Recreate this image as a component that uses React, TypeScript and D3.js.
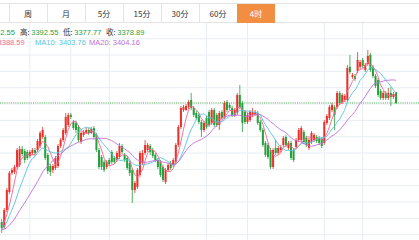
import React from 'react';
import * as d3 from 'd3';

const W = 419;
const H = 240;

const tabs = ['周', '月', '5分', '15分', '30分', '60分', '4时'];
const activeTab = '4时';

const infoLabels = ['开', '高', '低', '收'];
const infoValues = ['3392.55', '3392.55', '3377.77', '3378.89'];
const maLabels = ['MA5', 'MA10', 'MA20'];
const maValues = ['3388.59', '3403.76', '3404.16'];
const maPeriods = [5, 10, 20];

// closes before the first visible candle (needed for the moving averages)
const priorClose = [3238.9, 3232.6, 3226.4, 3220.1, 3222.6, 3213.9, 3210.1, 3217.6, 3212.6, 3207.6,
  3210.1, 3216.4, 3212.6, 3220.1, 3225.1, 3221.4, 3226.4, 3230.1, 3227.6];

const open = [
  3230.1, 3223.9, 3245.1, 3267.6, 3291.4, 3292.6, 3298.9, 3301.4, 3321.4, 3318.9,
  3317.6, 3312.6, 3316.4, 3320.1, 3320.1, 3325.1, 3336.4, 3336.4, 3313.9, 3300.1,
  3295.1, 3297.6, 3300.1, 3325.1, 3332.6, 3341.4, 3351.4, 3363.9, 3355.1, 3353.9,
  3348.9, 3330.1, 3338.9, 3341.4, 3345.1, 3341.4, 3347.6, 3338.9, 3320.1, 3311.4,
  3305.1, 3298.9, 3307.6, 3317.6, 3310.1, 3307.6, 3311.4, 3325.1, 3313.9, 3310.1,
  3303.9, 3295.1, 3270.1, 3273.9, 3288.9, 3303.9, 3316.4, 3320.1, 3325.1, 3320.1,
  3313.9, 3307.6, 3305.1, 3298.9, 3280.1, 3295.1, 3303.9, 3301.4, 3305.1, 3326.4,
  3348.9, 3370.1, 3370.1, 3373.9, 3382.6, 3372.6, 3366.4, 3363.9, 3355.1, 3345.1,
  3360.1, 3367.6, 3353.9, 3370.1, 3363.9, 3351.4, 3367.6, 3361.4, 3380.1, 3376.4,
  3372.6, 3363.9, 3366.4, 3388.9, 3378.9, 3367.6, 3355.1, 3357.6, 3363.9, 3365.1,
  3366.4, 3355.1, 3345.1, 3328.9, 3326.4, 3320.1, 3298.9, 3322.6, 3316.4, 3320.1,
  3326.4, 3336.4, 3322.6, 3328.9, 3320.1, 3323.9, 3332.6, 3332.6, 3342.6, 3335.1,
  3322.6, 3330.1, 3332.6, 3336.4, 3335.1, 3333.9, 3328.9, 3353.9, 3360.1, 3370.1,
  3373.9, 3373.9, 3391.4, 3380.1, 3382.6, 3382.6, 3423.9, 3411.4, 3412.6, 3418.9,
  3423.9, 3432.6, 3420.1, 3427.6, 3438.9, 3423.9, 3412.6, 3407.6, 3393.9, 3385.1,
  3391.4, 3385.1, 3391.4, 3386.4, 3392.55,
];

const close = [
  3222.6, 3245.1, 3270.1, 3291.4, 3295.1, 3298.9, 3320.1, 3321.4, 3315.1, 3307.6,
  3310.1, 3317.6, 3320.1, 3316.4, 3331.4, 3341.4, 3345.1, 3310.1, 3293.9, 3292.6,
  3300.1, 3310.1, 3325.1, 3332.6, 3345.1, 3361.4, 3363.9, 3361.4, 3347.6, 3345.1,
  3332.6, 3341.4, 3342.6, 3345.1, 3341.4, 3346.4, 3336.4, 3320.1, 3298.9, 3298.9,
  3295.1, 3305.1, 3302.6, 3305.1, 3305.1, 3316.4, 3325.1, 3317.6, 3307.6, 3297.6,
  3291.4, 3270.1, 3278.9, 3295.1, 3316.4, 3316.4, 3326.4, 3326.4, 3317.6, 3312.6,
  3307.6, 3298.9, 3288.9, 3282.6, 3295.1, 3301.4, 3297.6, 3307.6, 3326.4, 3348.9,
  3372.6, 3373.9, 3375.1, 3380.1, 3372.6, 3363.9, 3360.1, 3355.1, 3345.1, 3353.9,
  3348.9, 3351.4, 3370.1, 3351.4, 3351.4, 3366.4, 3360.1, 3378.9, 3370.1, 3372.6,
  3363.9, 3370.1, 3388.9, 3373.9, 3353.9, 3355.1, 3363.9, 3367.6, 3367.6, 3367.6,
  3353.9, 3345.1, 3326.4, 3313.9, 3311.4, 3298.9, 3320.1, 3316.4, 3322.6, 3323.9,
  3335.1, 3326.4, 3328.9, 3310.1, 3307.6, 3332.6, 3345.1, 3347.6, 3330.1, 3326.4,
  3332.6, 3341.4, 3338.9, 3331.4, 3328.9, 3325.1, 3355.1, 3362.6, 3373.9, 3376.4,
  3363.9, 3391.4, 3378.9, 3388.9, 3387.6, 3422.6, 3417.6, 3413.9, 3408.9, 3432.6,
  3430.1, 3425.1, 3426.4, 3437.6, 3420.1, 3412.6, 3400.1, 3388.9, 3385.1, 3391.4,
  3385.1, 3391.4, 3386.4, 3390.1, 3378.89,
];

const high = [
  3233.9, 3247.6, 3272.6, 3293.9, 3297.6, 3301.4, 3322.6, 3325.1, 3325.1, 3321.4,
  3320.1, 3320.1, 3322.6, 3322.6, 3333.9, 3343.9, 3348.9, 3338.9, 3316.4, 3302.6,
  3302.6, 3312.6, 3327.6, 3335.1, 3347.6, 3366.4, 3366.4, 3366.4, 3357.6, 3356.4,
  3351.4, 3343.9, 3345.1, 3347.6, 3347.6, 3348.9, 3350.1, 3341.4, 3322.6, 3313.9,
  3307.6, 3307.6, 3310.1, 3320.1, 3312.6, 3318.9, 3328.9, 3327.6, 3316.4, 3312.6,
  3306.4, 3297.6, 3281.4, 3297.6, 3318.9, 3320.1, 3332.6, 3328.9, 3327.6, 3322.6,
  3316.4, 3310.1, 3307.6, 3301.4, 3297.6, 3303.9, 3306.4, 3310.1, 3328.9, 3351.4,
  3375.1, 3376.4, 3377.6, 3382.6, 3391.4, 3375.1, 3368.9, 3366.4, 3357.6, 3356.4,
  3362.6, 3370.1, 3372.6, 3372.6, 3366.4, 3368.9, 3370.1, 3381.4, 3382.6, 3378.9,
  3375.1, 3372.6, 3391.4, 3401.4, 3381.4, 3370.1, 3366.4, 3370.1, 3372.6, 3370.1,
  3368.9, 3357.6, 3347.6, 3331.4, 3328.9, 3322.6, 3322.6, 3332.6, 3325.1, 3326.4,
  3337.6, 3338.9, 3331.4, 3331.4, 3322.6, 3335.1, 3347.6, 3350.1, 3345.1, 3337.6,
  3335.1, 3343.9, 3341.4, 3338.9, 3337.6, 3336.4, 3357.6, 3365.1, 3376.4, 3378.9,
  3376.4, 3393.9, 3393.9, 3391.4, 3390.1, 3426.4, 3438.9, 3416.4, 3415.1, 3442.6,
  3432.6, 3435.1, 3428.9, 3445.1, 3441.4, 3426.4, 3415.1, 3410.1, 3396.4, 3393.9,
  3393.9, 3397.6, 3398.9, 3392.6, 3392.55,
];

const low = [
  3216.4, 3221.4, 3242.6, 3265.1, 3288.9, 3290.1, 3296.4, 3298.9, 3312.6, 3303.9,
  3307.6, 3310.1, 3313.9, 3312.6, 3317.6, 3322.6, 3333.9, 3307.6, 3290.1, 3287.6,
  3291.4, 3295.1, 3297.6, 3322.6, 3330.1, 3338.9, 3348.9, 3358.9, 3345.1, 3341.4,
  3330.1, 3327.6, 3336.4, 3340.1, 3338.9, 3340.1, 3333.9, 3317.6, 3296.4, 3295.1,
  3292.6, 3296.4, 3300.1, 3302.6, 3302.6, 3305.1, 3308.9, 3315.1, 3305.1, 3295.1,
  3287.6, 3253.9, 3266.4, 3271.4, 3286.4, 3301.4, 3313.9, 3317.6, 3313.9, 3310.1,
  3305.1, 3296.4, 3286.4, 3280.1, 3277.6, 3292.6, 3295.1, 3298.9, 3302.6, 3323.9,
  3346.4, 3367.6, 3368.9, 3371.4, 3370.1, 3361.4, 3357.6, 3352.6, 3336.4, 3342.6,
  3346.4, 3348.9, 3351.4, 3348.9, 3348.9, 3345.1, 3357.6, 3358.9, 3367.6, 3370.1,
  3361.4, 3361.4, 3363.9, 3371.4, 3342.6, 3352.6, 3352.6, 3355.1, 3361.4, 3362.6,
  3351.4, 3342.6, 3323.9, 3311.4, 3308.9, 3296.4, 3296.4, 3313.9, 3313.9, 3317.6,
  3323.9, 3323.9, 3320.1, 3307.6, 3305.1, 3321.4, 3330.1, 3330.1, 3327.6, 3323.9,
  3320.1, 3327.6, 3330.1, 3328.9, 3326.4, 3322.6, 3326.4, 3351.4, 3357.6, 3367.6,
  3345.1, 3371.4, 3376.4, 3377.6, 3380.1, 3380.1, 3415.1, 3408.9, 3406.4, 3416.4,
  3421.4, 3422.6, 3417.6, 3425.1, 3417.6, 3410.1, 3397.6, 3386.4, 3382.6, 3382.6,
  3382.6, 3382.6, 3375.1, 3383.9, 3377.77,
];

// candle indices where the vertical (date) grid lines fall
const gridCandles = [11, 27, 42, 80, 96, 126, 141];

const RED = '#ea3029';
const GREEN = '#26a03b';
const MA_COLORS = ['#ef6790', '#55c4dd', '#bf6fd9'];
const GRID = '#e8eef2';
const LABEL = '#333333';
const VALUE_GREEN = '#2e9e3e';
const ORANGE = '#f28e41';

export default function App() {
  const n = close.length;
  const x = d3.scaleLinear().domain([0, n - 1]).range([1.7, 396]);
  const y = d3.scaleLinear().domain([3257.6, 3445.1]).range([200, 50]);
  const bw = 2;

  const allClose = [...priorClose, ...close];
  const mas = maPeriods.map((p) =>
    close.map((_, i) => {
      const j = i + priorClose.length;
      return d3.mean(allClose.slice(Math.max(0, j - p + 1), j + 1)) as number;
    })
  );
  const line = d3
    .line<number>()
    .x((_, i) => x(i))
    .y((d) => y(d));

  const gridY = d3.range(0, 14).map((k) => 22.4 + k * 16.33);
  const lastY = y(close[n - 1]);

  const tabX0 = 9;
  const tabW = 38;
  const font = "'Liberation Sans', 'Noto Sans CJK SC', sans-serif";

  const infoX = [-23.5, 20, 63, 106];
  const maX = [-22, 35, 89];

  return (
    <svg
      width={W}
      height={H}
      style={{ position: 'absolute', left: 0, top: 0, background: '#fff' }}
      fontFamily={font}
    >
      <rect x={0} y={0} width={W} height={H} fill="#fff" />
      {/* grid */}
      {gridY.map((gy, k) => (
        <line key={'h' + k} x1={0} x2={W} y1={gy} y2={gy} stroke={GRID} strokeWidth={1} />
      ))}
      {gridCandles.map((ci) => (
        <line key={'v' + ci} x1={x(ci)} x2={x(ci)} y1={23} y2={H} stroke={GRID} strokeWidth={1} />
      ))}

      {/* tab bar */}
      <rect x={0} y={3} width={W} height={20} fill="#fff" />
      <line x1={0} x2={W} y1={3.5} y2={3.5} stroke="#e4e4e4" />
      <line x1={0} x2={W} y1={22.5} y2={22.5} stroke="#e4e4e4" />
      {tabs.map((t, i) => {
        const tx = tabX0 + i * tabW;
        const active = t === activeTab;
        return (
          <g key={t}>
            <line x1={tx + 0.5} x2={tx + 0.5} y1={3.5} y2={22.5} stroke="#e4e4e4" />
            {active && <rect x={tx} y={4} width={tabW} height={19} fill={ORANGE} />}
            <text
              x={tx + tabW / 2}
              y={16.5}
              textAnchor="middle"
              fontSize={8}
              fill={active ? '#fff' : LABEL}
              fontFamily="'Noto Sans CJK SC', sans-serif"
            >
              {t}
            </text>
          </g>
        );
      })}

      {/* info line */}
      {infoLabels.map((l, i) => (
        <text key={l} x={infoX[i]} y={34.5} fontSize={7.5}>
          <tspan fill={LABEL} fontFamily="'Noto Sans CJK SC', sans-serif">{l}: </tspan>
          <tspan fill={VALUE_GREEN}>{infoValues[i]}</tspan>
        </text>
      ))}
      {maLabels.map((l, i) => (
        <text key={l} x={maX[i]} y={45} fontSize={7.5} fill={MA_COLORS[i]}>
          {l}: {maValues[i]}
        </text>
      ))}

      {/* last price line */}
      <line x1={0} x2={W} y1={lastY} y2={lastY} stroke="#4aa84f" strokeWidth={1} strokeDasharray="1 1.2" />

      {/* candles */}
      {close.map((c, i) => {
        const o = open[i];
        const up = c >= o;
        const col = up ? RED : GREEN;
        const top = y(Math.max(o, c));
        const bot = y(Math.min(o, c));
        return (
          <g key={i}>
            <line x1={x(i)} x2={x(i)} y1={y(high[i])} y2={y(low[i])} stroke={col} strokeWidth={0.8} />
            <rect x={x(i) - bw / 2} y={top} width={bw} height={Math.max(bot - top, 0.8)} fill={col} />
          </g>
        );
      })}

      {/* moving averages */}
      {mas.map((m, k) => (
        <path key={k} d={line(m) || ''} fill="none" stroke={MA_COLORS[k]} strokeWidth={0.9} />
      ))}
    </svg>
  );
}
